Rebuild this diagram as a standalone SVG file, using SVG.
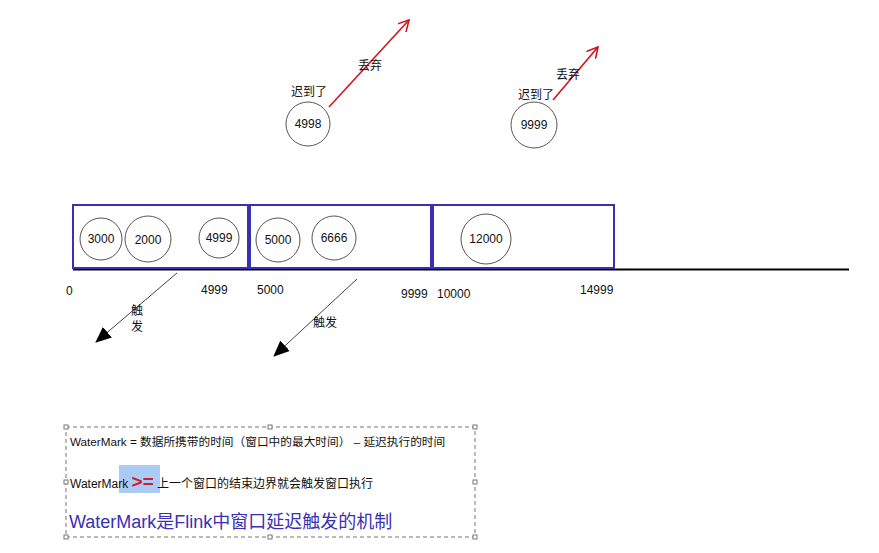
<svg xmlns="http://www.w3.org/2000/svg" width="879" height="553" viewBox="0 0 879 553">
<defs>
<style>
.t{font-family:"Liberation Sans","Noto Sans CJK SC",sans-serif;font-size:12px;fill:#111}
.c{fill:#fff;stroke:#555;stroke-width:1}
.w{fill:#fff;stroke:#3a30b4;stroke-width:2}
.red{stroke:#d0141e;stroke-width:1.6;fill:none}
.blk{stroke:#444;stroke-width:1;fill:none}
.h{fill:#fff;stroke:#777;stroke-width:1}
</style>
<marker id="ra" viewBox="0 0 12 12" refX="11" refY="6" markerWidth="12" markerHeight="12" markerUnits="userSpaceOnUse" orient="auto"><path d="M0,0 L11,6 L0,12" fill="none" stroke="#d0141e" stroke-width="1.6"/></marker>
<marker id="ba" viewBox="0 0 16 14" refX="15" refY="7" markerWidth="16" markerHeight="14" markerUnits="userSpaceOnUse" orient="auto"><path d="M0,0 L16,7 L0,14 Z" fill="#000"/></marker>
</defs>
<rect width="879" height="553" fill="#fff"/>
<g id="axis">
<line x1="73" y1="269.5" x2="849" y2="269.5" stroke="#000" stroke-width="2"/>
</g>
<g id="window1"><rect class="w" x="73" y="205" width="175" height="63"/></g>
<g id="window2"><rect class="w" x="250" y="205" width="181" height="63"/></g>
<g id="window3"><rect class="w" x="433" y="205" width="181" height="63"/></g>
<g id="e3000"><circle class="c" cx="101" cy="239" r="21"/><text class="t" x="101" y="243" text-anchor="middle">3000</text></g>
<g id="e2000"><circle class="c" cx="148" cy="239" r="23"/><text class="t" x="148" y="244" text-anchor="middle">2000</text></g>
<g id="e4999"><circle class="c" cx="219" cy="238" r="20"/><text class="t" x="219" y="242" text-anchor="middle">4999</text></g>
<g id="e5000"><circle class="c" cx="278" cy="240" r="22"/><text class="t" x="278" y="244" text-anchor="middle">5000</text></g>
<g id="e6666"><circle class="c" cx="334" cy="238" r="22"/><text class="t" x="334" y="242" text-anchor="middle">6666</text></g>
<g id="e12000"><circle class="c" cx="486" cy="239" r="25"/><text class="t" x="486" y="243" text-anchor="middle">12000</text></g>
<g id="e4998"><circle class="c" cx="308" cy="124" r="22"/><text class="t" x="308" y="128" text-anchor="middle">4998</text></g>
<g id="e9999"><circle class="c" cx="534" cy="125" r="23"/><text class="t" x="534" y="129" text-anchor="middle">9999</text></g>
<g id="ticks">
<text class="t" x="66" y="295">0</text>
<text class="t" x="201" y="294">4999</text>
<text class="t" x="257" y="294">5000</text>
<text class="t" x="401" y="298">9999</text>
<text class="t" x="437" y="298">10000</text>
<text class="t" x="580" y="294">14999</text>
</g>
<g id="connectors">
<line class="red" x1="329" y1="107" x2="409" y2="20" marker-end="url(#ra)"/>
<line class="red" x1="553" y1="100" x2="598" y2="47" marker-end="url(#ra)"/>
<line class="blk" x1="177" y1="273" x2="96" y2="342" marker-end="url(#ba)"/>
<line class="blk" x1="357" y1="279" x2="274" y2="356" marker-end="url(#ba)"/>
</g>
<g id="labels">
<text class="t" x="358" y="70">丢弃</text>
<text class="t" x="556" y="79">丢弃</text>
<text class="t" x="291" y="96">迟到了</text>
<text class="t" x="518" y="99">迟到了</text>
<text class="t" x="131" y="315">触</text>
<text class="t" x="131" y="331">发</text>
<text class="t" x="313" y="327">触发</text>
</g>
<g id="note">
<rect x="66" y="427" width="409" height="110" fill="none" stroke="#777" stroke-width="1" stroke-dasharray="4,3"/>
<rect class="h" x="64" y="425" width="4" height="4"/>
<rect class="h" x="268" y="425" width="4" height="4"/>
<rect class="h" x="473" y="425" width="4" height="4"/>
<rect class="h" x="64" y="480" width="4" height="4"/>
<rect class="h" x="473" y="480" width="4" height="4"/>
<rect class="h" x="64" y="535" width="4" height="4"/>
<rect class="h" x="268" y="535" width="4" height="4"/>
<rect class="h" x="473" y="535" width="4" height="4"/>
<rect x="119" y="465" width="41" height="28" fill="#a9cbf5"/>
<text class="t" x="70" y="446" style="font-size:11.7px">WaterMark = 数据所携带的时间（窗口中的最大时间） – 延迟执行的时间</text>
<text class="t" x="70" y="488">WaterMark <tspan fill="#d0202a" font-size="19" font-weight="bold">&gt;=</tspan> 上一个窗口的结束边界就会触发窗口执行</text>
<text class="t" x="69" y="528" style="font-size:18px;fill:#3a30b4">WaterMark是Flink中窗口延迟触发的机制</text>
</g>
</svg>
